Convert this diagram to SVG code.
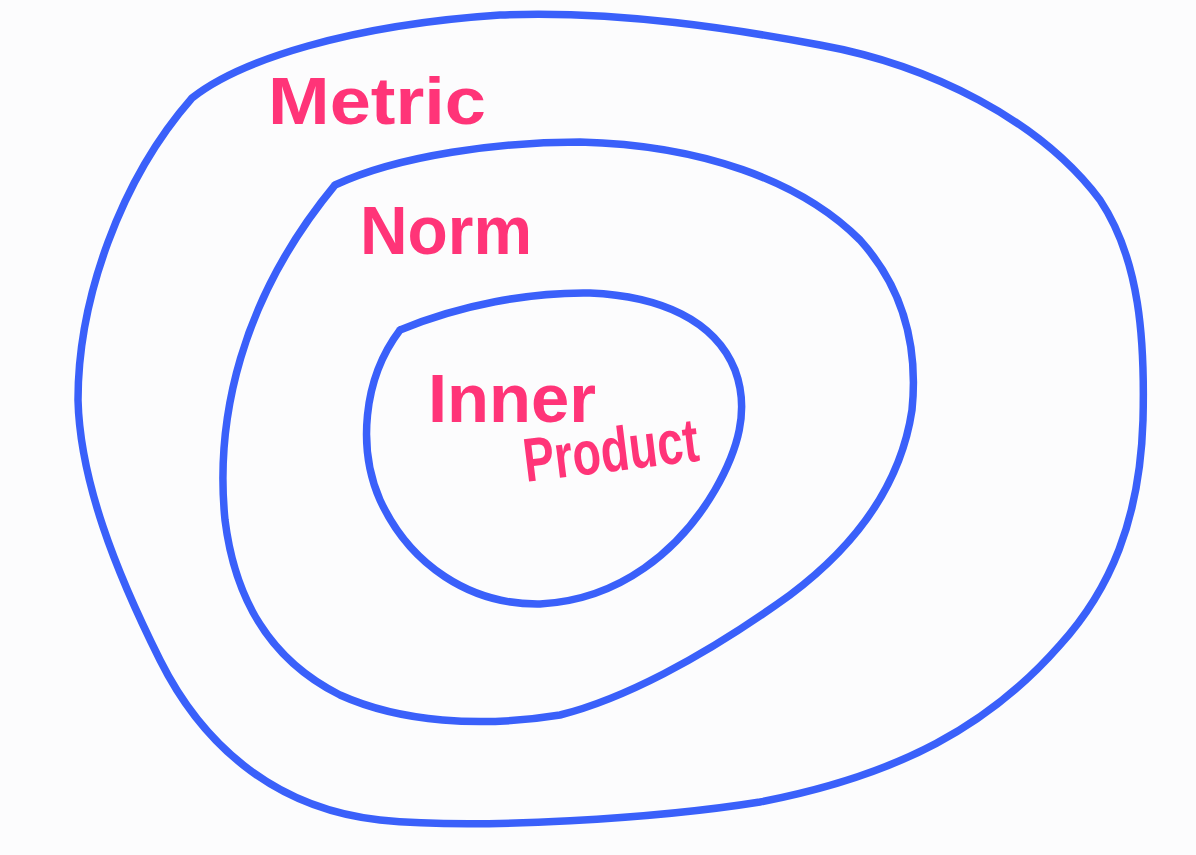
<svg xmlns="http://www.w3.org/2000/svg" width="1196" height="855" viewBox="0 0 1196 855">
  <style>
    .ring { fill: none; stroke: #3a60fa; stroke-width: 7.5; stroke-linecap: round; stroke-linejoin: round; }
    .label { fill: #ff3478; font-family: "Liberation Sans", "DejaVu Sans", sans-serif; font-weight: bold; }
  </style>
  <rect width="1196" height="855" fill="#fcfcfd"/>

  <!-- outer set: metric spaces -->
  <g id="metric">
    <path class="ring" d="M192,98 C240,60 350,25 500,15 C620,10 740,30 820,45 C930,65 1040,120 1100,200 C1140,260 1145,340 1143,420 C1140,520 1110,590 1060,645 C990,725 900,775 760,802 C660,818 480,830 380,820 C270,808 200,740 160,660 C115,570 80,480 78,400 C78,300 120,180 192,98"/>
    <text class="label" x="268" y="124" font-size="66" textLength="218" lengthAdjust="spacingAndGlyphs">Metric</text>
  </g>

  <!-- middle set: normed spaces -->
  <g id="norm">
    <path class="ring" d="M335,185 C400,155 500,142 580,142 C700,145 800,180 860,240 C905,290 918,350 912,410 C900,490 850,550 790,595 C700,660 620,700 560,715 C480,728 400,722 340,695 C270,660 235,600 225,520 C215,420 240,300 335,185"/>
    <text class="label" x="360" y="254" font-size="68" textLength="172" lengthAdjust="spacingAndGlyphs">Norm</text>
  </g>

  <!-- inner set: inner product spaces -->
  <g id="inner-product">
    <path class="ring" d="M400,330 C460,305 530,292 590,293 C660,296 715,320 735,370 C750,410 738,450 715,490 C680,550 620,600 540,604 C470,605 410,565 380,500 C358,450 362,380 400,330"/>
    <text class="label" x="428" y="422" font-size="68" textLength="168" lengthAdjust="spacingAndGlyphs">Inner</text>
    <text class="label" x="526" y="482" font-size="62" textLength="176" lengthAdjust="spacingAndGlyphs" transform="rotate(-7 526 482)">Product</text>
  </g>
</svg>
